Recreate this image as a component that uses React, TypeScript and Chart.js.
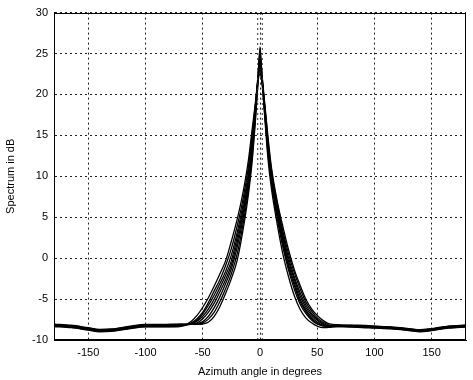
import { useEffect, useRef } from "react";
import { Chart, registerables } from "chart.js";

Chart.register(...registerables);

const ANGLES = [
  -180, -165, -150, -140, -130, -115, -100, -85, -70,
  -60, -55, -50, -45, -40, -35, -30, -25, -20, -15, -10, -7, -4, -2,
  0,
  2, 4, 7, 10, 15, 20, 25, 30, 35, 40, 45, 50, 55, 60,
  70, 85, 100, 115, 130, 140, 150, 165, 180,
];

const CURVE_1 = [
  -8.1, -8.25, -8.55, -8.75, -8.7, -8.4, -8.15, -8.15, -8.1,
  -8.1, -8.1, -8.05, -7.8, -7.1, -5.9, -4.3, -2.5, -0.3, 3.3, 7.9, 11.6, 16.8, 20.9,
  25.8,
  21.7, 18.3, 13.3, 9.6, 5.6, 2.1, -0.8, -3.0, -5.0, -6.3, -7.2, -7.8, -8.2, -8.3,
  -8.25, -8.3, -8.35, -8.45, -8.65, -8.8, -8.65, -8.35, -8.2,
];
const CURVE_2 = [
  -8.3, -8.45, -8.75, -8.95, -8.9, -8.6, -8.35, -8.35, -8.3,
  -7.7, -7.0, -6.0, -4.8, -3.4, -1.9, -0.3, 2.1, 4.7, 7.9, 12.1, 15.6, 19.0, 21.6,
  23,
  21.2, 17.9, 12.7, 9.1, 4.9, 1.35, -1.5, -3.8, -5.6, -6.75, -7.55, -8.05, -8.3, -8.3,
  -8.35, -8.4, -8.5, -8.6, -8.8, -8.95, -8.8, -8.5, -8.4,
];
const CURVE_3 = [
  -8.2, -8.35, -8.65, -8.85, -8.8, -8.5, -8.25, -8.25, -8.2,
  -8.0, -7.7, -7.1, -6.2, -5.0, -3.6, -2.1, -0.3, 2.5, 5.8, 10, 13.8, 18.3, 21.7,
  24.8,
  21.9, 18.7, 14.0, 10.2, 6.3, 2.9, 0.0, -2.3, -4.2, -5.7, -6.75, -7.45, -7.95, -8.25,
  -8.3, -8.35, -8.4, -8.5, -8.7, -8.85, -8.7, -8.4, -8.3,
];
const CURVE_4 = [
  -8.15, -8.3, -8.6, -8.8, -8.75, -8.45, -8.2, -8.2, -8.15,
  -8.1, -8.0, -7.75, -7.1, -6.05, -4.7, -3.1, -1.3, 1.3, 4.7, 9.1, 12.8, 17.6, 21.3,
  24,
  22.0, 19.1, 14.8, 11.1, 7.0, 3.85, 1.0, -1.4, -3.3, -5.0, -6.2, -7.0, -7.6, -8.0,
  -8.15, -8.25, -8.35, -8.45, -8.65, -8.8, -8.65, -8.35, -8.25,
];
const CURVE_5 = [
  -8.25, -8.4, -8.7, -8.9, -8.85, -8.55, -8.3, -8.3, -8.25,
  -8.0, -7.6, -6.8, -5.75, -4.5, -3.1, -1.6, 0.4, 3.1, 6.4, 10.6, 14.3, 18.6, 21.9,
  25.2,
  21.2, 17.5, 12.1, 8.5, 4.2, 0.5, -2.3, -4.6, -6.25, -7.3, -7.9, -8.3, -8.5, -8.45,
  -8.35, -8.4, -8.45, -8.55, -8.75, -8.9, -8.75, -8.45, -8.35,
];
const CURVE_6 = [
  -8.05, -8.2, -8.5, -8.7, -8.65, -8.35, -8.1, -8.1, -8.05,
  -8.1, -8.05, -7.9, -7.45, -6.6, -5.3, -3.7, -1.9, 0.5, 4.0, 8.5, 12.2, 17.2, 21.1,
  23.5,
  21.5, 18.45, 13.6, 9.9, 5.9, 2.5, -0.4, -2.6, -4.6, -6.0, -6.95, -7.6, -8.1, -8.3,
  -8.2, -8.2, -8.3, -8.4, -8.6, -8.75, -8.6, -8.3, -8.2,
];
const CURVE_7 = [
  -8.35, -8.5, -8.8, -9.0, -8.95, -8.65, -8.4, -8.4, -8.35,
  -7.9, -7.4, -6.6, -5.4, -4.0, -2.6, -0.9, 1.2, 3.9, 7.1, 11.3, 14.9, 18.8, 21.4,
  22.5,
  21.3, 18.9, 14.4, 10.7, 6.7, 3.3, 0.5, -1.8, -3.7, -5.35, -6.45, -7.3, -7.8, -8.15,
  -8.3, -8.45, -8.55, -8.65, -8.85, -9.0, -8.85, -8.55, -8.4,
];
const CURVE_8 = [
  -8.2, -8.3, -8.6, -8.8, -8.8, -8.5, -8.2, -8.2, -8.1,
  -8.05, -7.9, -7.4, -6.6, -5.5, -4.1, -2.6, -0.8, 1.9, 5.3, 9.6, 13.3, 18.0, 21.5,
  24.3,
  21.6, 18.1, 13.0, 9.4, 5.25, 1.75, -1.15, -3.35, -5.3, -6.5, -7.4, -7.95, -8.25, -8.3,
  -8.3, -8.3, -8.4, -8.5, -8.7, -8.85, -8.7, -8.4, -8.3,
];

const CURVES = [CURVE_1, CURVE_2, CURVE_3, CURVE_4, CURVE_5, CURVE_6, CURVE_7, CURVE_8];

const X_TICKS = [-150, -100, -50, 0, 50, 100, 150];
const Y_TICKS = [-10, -5, 0, 5, 10, 15, 20, 25, 30];
const MARKER_ANGLES = [-2, 2];
const X_MIN = -180;
const X_MAX = 180;
const Y_MIN = -10;
const Y_MAX = 30;

const FONT = "'Liberation Sans', Arial, sans-serif";

export default function App() {
  const ref = useRef<HTMLCanvasElement>(null);

  useEffect(() => {
    if (!ref.current) return;

    const boxPlugin = {
      id: "box",
      afterDraw(chart: any) {
        const { ctx, chartArea: a } = chart;
        ctx.save();
        ctx.strokeStyle = "#000";
        ctx.lineWidth = 1;
        ctx.strokeRect(Math.round(a.left) + 0.5, Math.round(a.top) + 0.5, Math.round(a.right - a.left) - 1, Math.round(a.bottom - a.top) - 1);
        ctx.restore();
      },
    };

    const curveSets = CURVES.map((c, k) => ({
      label: "Curve " + (k + 1),
      data: ANGLES.map((x, i) => ({ x, y: c[i] })),
      borderColor: "#000",
      borderWidth: 1.3,
      pointRadius: 0,
      fill: false,
      cubicInterpolationMode: "monotone" as const,
    }));

    const markerSets = MARKER_ANGLES.map((m) => ({
      label: "marker " + m,
      data: [
        { x: m, y: Y_MIN },
        { x: m, y: Y_MAX },
      ],
      borderColor: "#333",
      borderWidth: 1,
      borderDash: [2, 3],
      pointRadius: 0,
      fill: false,
    }));

    const chart = new Chart(ref.current, {
      type: "line",
      data: { datasets: [...markerSets, ...curveSets] as any },
      plugins: [boxPlugin],
      options: {
        animation: false,
        responsive: false,
        maintainAspectRatio: false,
        layout: { padding: { left: 0, right: 7, top: 10, bottom: 0 } },
        plugins: { legend: { display: false }, tooltip: { enabled: false } },
        scales: {
          x: {
            type: "linear",
            min: X_MIN,
            max: X_MAX,
            afterBuildTicks: (s: any) => {
              s.ticks = X_TICKS.map((v) => ({ value: v }));
            },
            afterFit: (s: any) => {
              s.height = 40;
            },
            grid: { color: "#222", lineWidth: 1, drawTicks: false },
            border: { display: true, color: "#000", dash: [2, 3] },
            ticks: { color: "#000", font: { family: FONT, size: 11 }, padding: 6, maxRotation: 0 },
            title: {
              display: true,
              text: "Azimuth angle in degrees",
              color: "#000",
              font: { family: FONT, size: 11 },
              padding: { top: 0, bottom: 1 },
            },
          },
          y: {
            type: "linear",
            min: Y_MIN,
            max: Y_MAX,
            afterBuildTicks: (s: any) => {
              s.ticks = Y_TICKS.map((v) => ({ value: v }));
            },
            afterFit: (s: any) => {
              s.width = 54;
            },
            grid: { color: "#222", lineWidth: 1, drawTicks: false },
            border: { display: true, color: "#000", dash: [2, 3] },
            ticks: { color: "#000", font: { family: FONT, size: 11 }, padding: 6 },
            title: {
              display: true,
              text: "Spectrum in dB",
              color: "#000",
              font: { family: FONT, size: 11 },
              padding: { top: 4, bottom: 0 },
            },
          },
        },
      },
    });

    return () => chart.destroy();
  }, []);

  return (
    <div style={{ position: "fixed", left: 0, top: 0, width: 473, height: 380, background: "#fff" }}>
      <canvas ref={ref} width={473} height={380} style={{ width: 473, height: 380, display: "block" }} />
    </div>
  );
}
